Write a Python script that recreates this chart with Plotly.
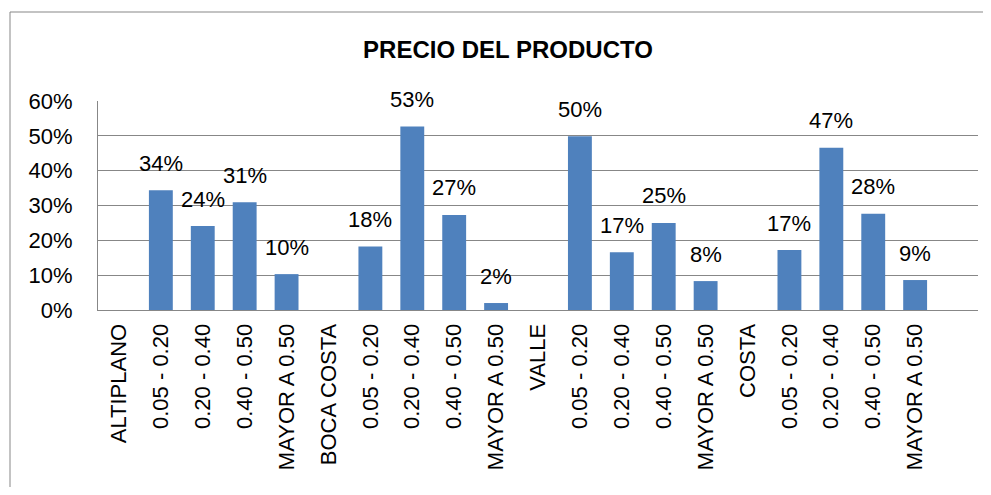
import plotly.graph_objects as go

categories = ["ALTIPLANO", "0.05 - 0.20", "0.20 - 0.40", "0.40 - 0.50", "MAYOR A 0.50",
              "BOCA COSTA", "0.05 - 0.20", "0.20 - 0.40", "0.40 - 0.50", "MAYOR A 0.50",
              "VALLE", "0.05 - 0.20", "0.20 - 0.40", "0.40 - 0.50", "MAYOR A 0.50",
              "COSTA", "0.05 - 0.20", "0.20 - 0.40", "0.40 - 0.50", "MAYOR A 0.50",
              ""]
values = [None, 0.344, 0.241, 0.309, 0.103,
          None, 0.182, 0.527, 0.273, 0.020,
          None, 0.499, 0.166, 0.250, 0.083,
          None, 0.172, 0.466, 0.276, 0.086,
          None]
y_ticks = [0, 0.1, 0.2, 0.3, 0.4, 0.5, 0.6]

# page has an 8px body margin, so the figure is sized to fit inside it
W, H = 975, 479
L, R, T, B = 90, 5, 93, 177
FONT = "Liberation Sans, Arial, sans-serif"
BAR = "#4F81BD"
GRID = "#878787"

xs = list(range(len(categories)))

fig = go.Figure()
fig.add_trace(go.Bar(x=xs, y=values, marker=dict(color=BAR, line=dict(width=0)),
                     width=0.57, hoverinfo="skip"))

for i, v in zip(xs, values):
    if v is None:
        continue
    fig.add_annotation(x=i, y=v, text=f"{round(v * 100)}%", showarrow=False,
                       yanchor="middle", yshift=27, font=dict(size=22, color="black", family=FONT))

pw = W - L - R
ph = H - T - B
fig.add_shape(type="rect", xref="paper", yref="paper",
              x0=(2 - L) / pw, x1=(W + 40 - L) / pw,
              y0=(H - B - (H + 40)) / ph, y1=(H - B - 4) / ph,
              line=dict(color=GRID, width=1), fillcolor="rgba(0,0,0,0)", layer="below")

fig.update_layout(
    width=W, height=H,
    margin=dict(l=L, r=R, t=T, b=B, autoexpand=False),
    paper_bgcolor="white", plot_bgcolor="white",
    showlegend=False,
    font=dict(family=FONT, size=22, color="black"),
    title=dict(text="<b>PRECIO DEL PRODUCTO</b>", x=500 / W, xanchor="center",
               y=1 - 42 / H, yanchor="middle", font=dict(size=24, color="black", family=FONT)),
    xaxis=dict(range=[-0.5, len(categories) - 0.5], tickmode="array", tickvals=xs,
               ticktext=categories, tickangle=-90, showgrid=False, showline=True,
               linecolor=GRID, linewidth=1, ticks="", ticklabelstandoff=4,
               tickfont=dict(size=22, family=FONT, color="black"), fixedrange=True),
    yaxis=dict(range=[0, 0.6], tickmode="array", tickvals=y_ticks, tickformat=".0%",
               showgrid=True, gridcolor=GRID, gridwidth=1, showline=True, linecolor=GRID,
               linewidth=1, ticks="", ticklabelstandoff=20, zeroline=False,
               tickfont=dict(size=22, family=FONT, color="black"), fixedrange=True),
)

fig.write_html("out.html")
